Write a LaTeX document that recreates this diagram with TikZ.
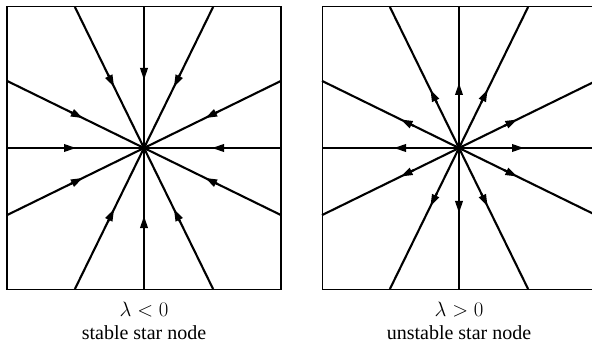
\documentclass[tikz,border=0pt]{standalone}
\usepackage{fontspec}
\setmainfont{Liberation Serif}
\usetikzlibrary{arrows.meta,calc}
\begin{document}
\begin{tikzpicture}[x=1pt,y=-1pt,
  ray/.style={line width=2.1pt},
  frame/.style={line width=1.7pt},
  tipstyle/.style={-{Triangle[length=12pt,width=7.5pt]}},
  lbl/.style={font=\fontsize{20}{24}\selectfont, anchor=base, inner sep=0pt}]
\useasboundingbox (0,0) rectangle (592,342);
\clip (0,0) rectangle (592,342);
% left panel
\coordinate (c1) at (144,148);
\draw[frame] (7,6.5) rectangle (281,289.5);
% right panel
\coordinate (c2) at (459,148);
\draw[frame] (322.5,6.5) rectangle (596.5,289.5);
\foreach \dx/\dy [count=\i] in {137/0,137/67.1,69.1/141,0/141,-69.1/141,-137/67.1,-137/0,-137/-67.1,-69.1/-141,0/-141,69.1/-141,137/-67.1}{
  \coordinate (e1-\i) at ($(c1)+(\dx,\dy)$);
  \draw[ray] (c1) -- (e1-\i);
  \draw[ray,tipstyle] ($(c1)!82pt!(e1-\i)$) -- ($(c1)!68pt!(e1-\i)$);
  \coordinate (e2-\i) at ($(c2)+(\dx,\dy)$);
  \draw[ray] (c2) -- (e2-\i);
  \draw[ray,tipstyle] ($(c2)!50pt!(e2-\i)$) -- ($(c2)!65pt!(e2-\i)$);
}
\node[lbl] (t1) at (144,316) {$\lambda<0$};
\node[lbl] (s1) at (144,339) {stable star node};
\node[lbl] (t2) at (459,316) {$\lambda>0$};
\node[lbl] (s2) at (459,339) {unstable star node};
\end{tikzpicture}
\end{document}
